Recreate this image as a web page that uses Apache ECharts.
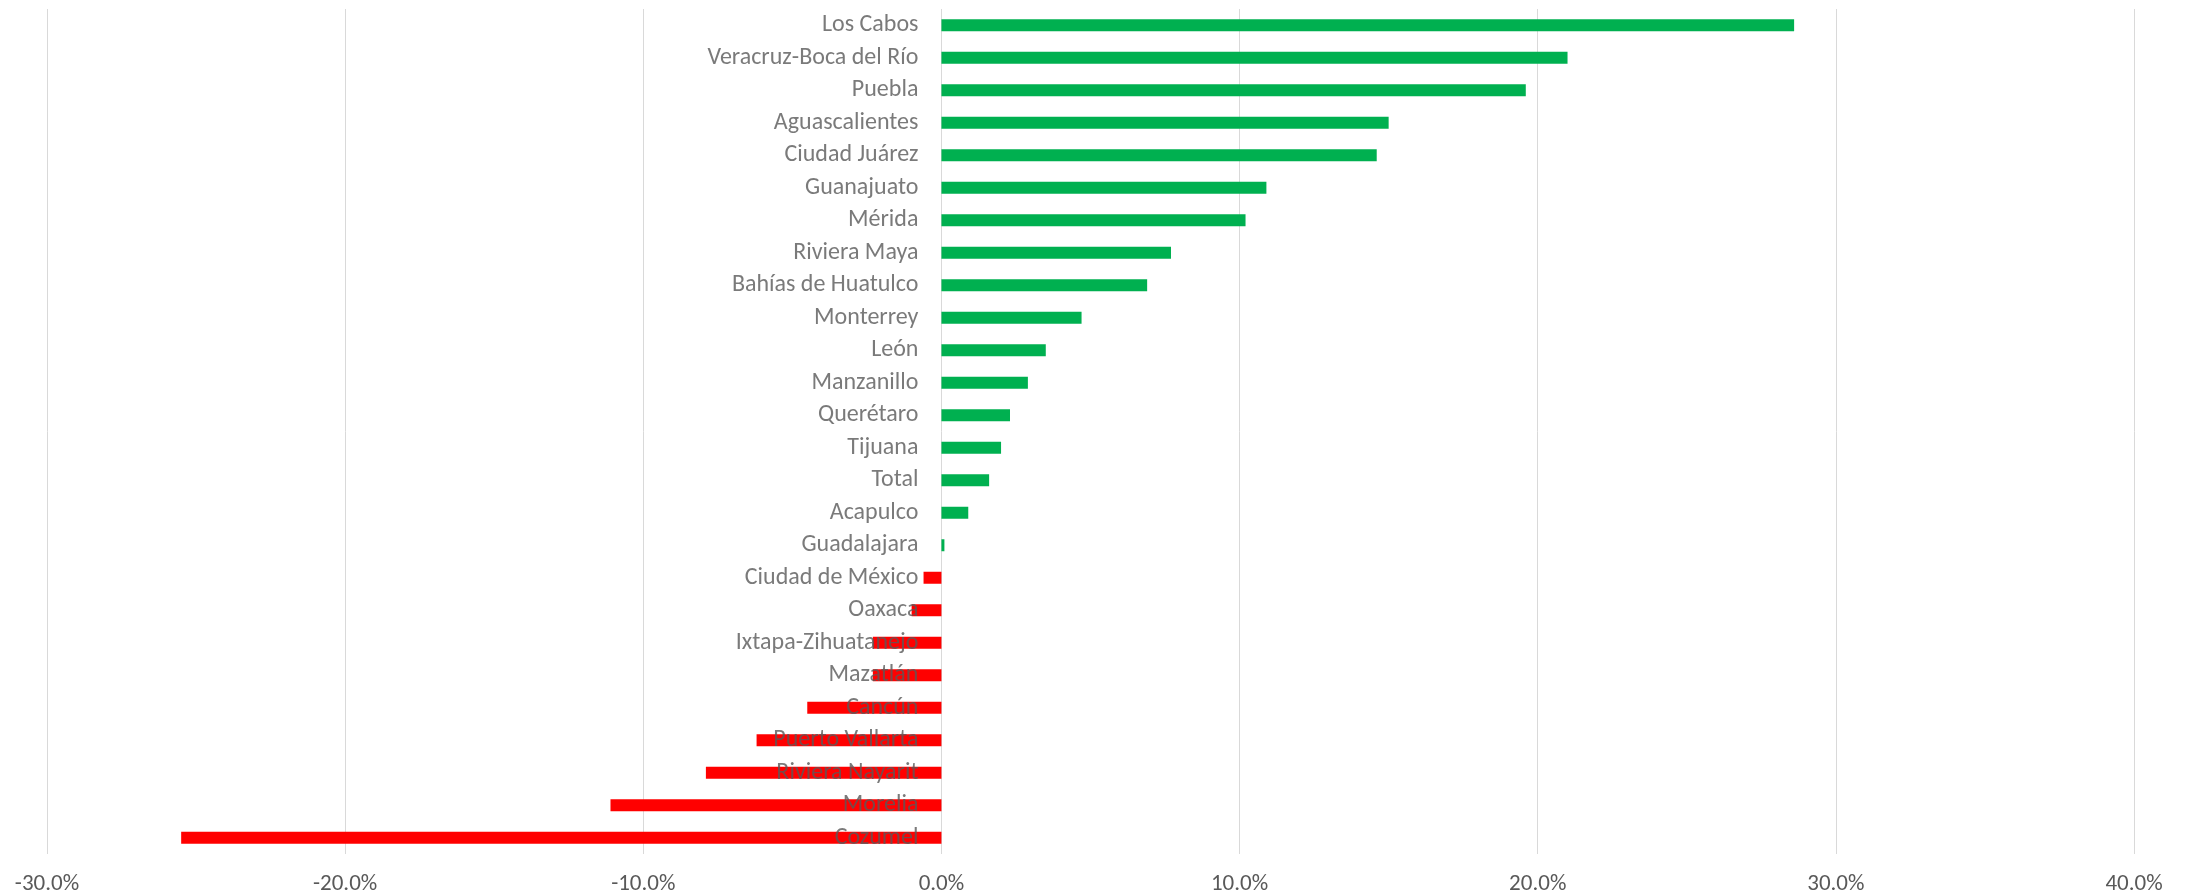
<!DOCTYPE html>
<html>
<head>
<meta charset="utf-8">
<script src="https://cdn.jsdelivr.net/npm/echarts@6/dist/echarts.min.js"></script>
<style>
html,body{margin:0;padding:0;background:#fff;}
#c{width:2188px;height:896px;}
</style>
</head>
<body>
<div id="c"></div>
<script>
const categories = ["Los Cabos","Veracruz-Boca del Río","Puebla","Aguascalientes","Ciudad Juárez","Guanajuato","Mérida","Riviera Maya","Bahías de Huatulco","Monterrey","León","Manzanillo","Querétaro","Tijuana","Total","Acapulco","Guadalajara","Ciudad de México","Oaxaca","Ixtapa-Zihuatanejo","Mazatlán","Cancún","Puerto Vallarta","Riviera Nayarit","Morelia","Cozumel"];
const values = [28.6,21.0,19.6,15.0,14.6,10.9,10.2,7.7,6.9,4.7,3.5,2.9,2.3,2.0,1.6,0.9,0.1,-0.6,-1.0,-2.3,-2.3,-4.5,-6.2,-7.9,-11.1,-25.5];
const xTicks = [-30,-20,-10,0,10,20,30,40];

const chart = echarts.init(document.getElementById('c'));
const font = "Carlito, Calibri, Lato, sans-serif";
chart.setOption({
  animation:false,
  backgroundColor:'#fff',
  grid:{left:47,right:54,top:9,bottom:42,containLabel:false,outerBoundsMode:'none'},
  xAxis:{
    type:'value',
    min:xTicks[0], max:xTicks[xTicks.length-1], interval:10,
    axisLine:{show:false}, axisTick:{show:false},
    splitLine:{show:true,lineStyle:{color:'#D9D9D9',width:1}},
    axisLabel:{color:'#595959',fontFamily:font,fontSize:23,margin:19,
      formatter:v=>v.toFixed(1)+'%'}
  },
  yAxis:{
    type:'category', data:categories, inverse:true,
    axisLine:{show:false}, axisTick:{show:false},
    axisLabel:{show:false}
  },
  series:[{
    type:'bar', barWidth:12, z:2,
    data:values.map(v=>({value:v,itemStyle:{color:v>=0?'#00B050':'#FF0000'}}))
  },{
    type:'scatter', z:10, symbolSize:0, silent:true,
    itemStyle:{color:'rgba(0,0,0,0)'},
    data:categories.map(c=>[0,c]),
    label:{show:true,position:'left',distance:23,color:'#595959',fontFamily:font,fontSize:24,
      formatter:p=>categories[p.dataIndex]}
  }]
});
</script>
</body>
</html>
